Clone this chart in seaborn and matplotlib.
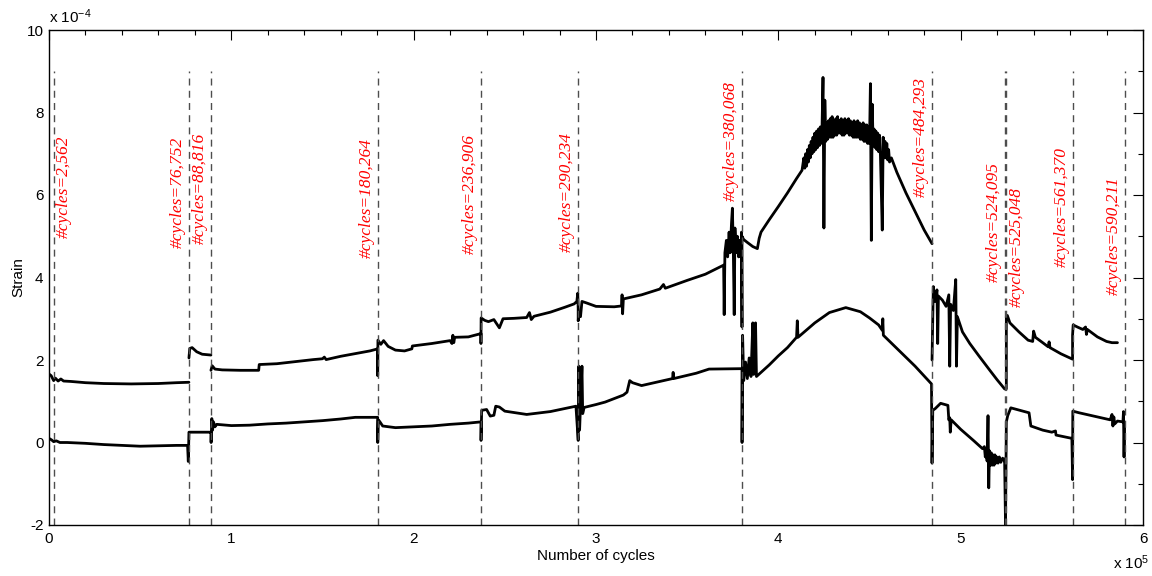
import numpy as np
import pandas as pd
import matplotlib
matplotlib.use('Agg')
import matplotlib.pyplot as plt
from matplotlib.ticker import MultipleLocator, FuncFormatter
import seaborn as sns

# cycle counts where the test was interrupted (dashed markers)
event_cycles = [2562, 76752, 88816, 180264, 236906, 290234,
                380068, 484293, 524095, 525048, 561370, 590211]
event_labels = ['#cycles=' + f'{c:,}' for c in event_cycles]

# strain traces, (cycles, strain in 1e-4)
upper_1 = [(0, 1.66), (1200, 1.62), (2562, 1.50), (3500, 1.56), (5000, 1.49), (6500, 1.54),
           (8000, 1.49), (12000, 1.48), (20000, 1.45), (30000, 1.43), (45000, 1.42),
           (60000, 1.43), (70000, 1.45), (76752, 1.46)]
upper_2 = [(76752, 2.05), (77200, 2.28), (78500, 2.30), (81000, 2.20), (84000, 2.14), (88816, 2.12)]
upper_3 = [(88816, 1.75), (89500, 1.86), (91000, 1.78), (95000, 1.76), (105000, 1.75),
           (115000, 1.75), (115300, 1.89), (125000, 1.91), (135000, 1.96), (145000, 2.01),
           (150000, 2.03), (151000, 2.07), (152000, 2.01), (160000, 2.09), (170000, 2.17),
           (176000, 2.22), (180264, 2.27), (180264, 1.62), (180400, 2.48), (182000, 2.38),
           (183500, 2.47), (186000, 2.33), (190000, 2.24), (195000, 2.22), (199000, 2.27),
           (199300, 2.34), (210000, 2.40), (220000, 2.47), (221000, 2.40), (221500, 2.60),
           (222000, 2.42), (222500, 2.55), (230000, 2.56), (236906, 2.64),
           (236906, 2.40), (237000, 3.02), (239000, 2.96), (241000, 2.93), (244000, 2.98),
           (247000, 2.78), (249000, 3.00), (255000, 3.01), (262000, 3.03), (263500, 3.15),
           (264500, 2.98), (266000, 3.06), (275000, 3.16), (283000, 3.28), (288000, 3.36),
           (289500, 3.42), (290000, 3.62), (290234, 3.25),
           (290234, 2.95), (290600, 3.08), (291500, 3.05), (292300, 3.42), (295000, 3.38),
           (300000, 3.30), (310000, 3.29), (314000, 3.31), (314300, 3.58), (314600, 3.12),
           (315000, 3.48), (325000, 3.58), (335000, 3.72), (337000, 3.83), (338000, 3.74),
           (350000, 3.93), (360000, 4.08), (370000, 4.30), (370300, 3.10), (370700, 4.60),
           (371500, 4.90), (372200, 4.50), (373000, 5.10), (373600, 4.60), (374300, 5.30),
           (374800, 5.68), (375300, 4.70), (375800, 3.10), (376200, 5.20), (376800, 4.60),
           (377500, 5.00), (378200, 4.50), (378800, 4.90), (379400, 4.50), (379800, 5.10),
           (380068, 2.80),
           (380068, 5.00), (381000, 4.92), (383000, 4.85), (386000, 4.75), (388500, 4.70),
           (389500, 4.95), (390500, 5.10), (395000, 5.40), (400000, 5.72), (405000, 6.05),
           (410000, 6.40), (413000, 6.60), (414000, 6.90), (414500, 6.65), (415000, 7.00),
           (415500, 6.70), (416000, 7.10), (416500, 6.80), (417000, 7.20), (417500, 6.90),
           (418000, 7.30), (418500, 7.00), (419000, 7.40), (419500, 7.05), (420000, 7.50),
           (420500, 7.10), (421000, 7.55), (421500, 7.15), (422000, 7.60), (422500, 7.20),
           (423000, 7.65), (423500, 7.25), (424000, 7.70), (424500, 8.85), (425000, 5.20),
           (425500, 8.30), (426000, 7.30), (426500, 7.75), (427000, 7.35), (427500, 7.80),
           (428000, 7.40), (428500, 7.85), (429000, 7.40), (429500, 7.90), (430000, 7.40),
           (430500, 7.80), (431000, 7.45), (431500, 7.85), (432000, 7.45), (432500, 7.90),
           (433000, 7.50), (433500, 7.80), (434000, 7.50), (434500, 7.85), (435000, 7.45),
           (435500, 7.80), (436000, 7.45), (436500, 7.85), (437000, 7.50), (437500, 7.80),
           (438000, 7.50), (438500, 7.85), (439000, 7.45), (439500, 7.80), (440000, 7.45),
           (440500, 7.75), (441000, 7.40), (441500, 7.80), (442000, 7.40), (442500, 7.75),
           (443000, 7.40), (443500, 7.80), (444000, 7.40), (444500, 7.75), (445000, 7.35),
           (445500, 7.70), (446000, 7.35), (446500, 7.75), (447000, 7.30), (447500, 7.70),
           (448000, 7.30), (448500, 7.70), (449000, 7.25), (449500, 7.65), (450000, 7.25),
           (450500, 8.70), (451000, 4.90), (451500, 8.20), (452000, 7.20), (452500, 7.60),
           (453000, 7.15), (453500, 7.55), (454000, 7.10), (454500, 7.50), (455000, 7.05),
           (455500, 7.45), (456000, 6.95), (457000, 5.15), (457500, 7.40), (458000, 6.90),
           (458500, 7.30), (459000, 6.90), (459500, 7.25), (460000, 6.85), (460500, 7.10),
           (461000, 6.80), (462000, 6.90), (465000, 6.55), (470000, 6.05), (475000, 5.60),
           (480000, 5.15), (484293, 4.82)]
upper_4 = [(484293, 2.00), (485000, 3.78), (486000, 3.42), (487000, 3.70), (487400, 2.40),
           (487800, 3.55), (490000, 3.45), (492000, 3.30), (493500, 3.58), (494000, 1.85),
           (494500, 3.35), (496000, 3.20), (497300, 3.95), (497700, 1.85), (498200, 3.05),
           (501000, 2.68), (505000, 2.40), (510000, 2.10), (516000, 1.75), (520000, 1.52),
           (524095, 1.30), (525048, 1.30), (525048, 3.05), (525600, 3.08), (527000, 2.90),
           (532000, 2.68), (537000, 2.48), (539500, 2.45), (540000, 2.70), (541000, 2.55),
           (545000, 2.42), (548000, 2.32), (548500, 2.44), (549000, 2.30), (555000, 2.15),
           (561370, 2.02), (561370, 2.60), (561700, 2.85), (564000, 2.80), (567000, 2.74),
           (568500, 2.80), (569000, 2.62), (569500, 2.74), (575000, 2.56), (580000, 2.45),
           (583000, 2.42), (586000, 2.42)]
lower_1 = [(0, 0.10), (1500, 0.06), (2562, 0.02), (4000, 0.04), (6000, 0.00), (10000, 0.00),
           (20000, -0.02), (30000, -0.05), (40000, -0.07), (50000, -0.09), (60000, -0.08),
           (70000, -0.07), (76000, -0.07), (76400, -0.46), (76600, -0.05), (76752, 0.25),
           (88000, 0.25), (88816, 0.24), (88900, 0.00), (89300, 0.58), (89700, 0.30),
           (90200, 0.50), (91000, 0.38), (92000, 0.44), (100000, 0.41), (110000, 0.42),
           (120000, 0.45), (130000, 0.47), (140000, 0.50), (150000, 0.53), (160000, 0.57),
           (168000, 0.61), (180264, 0.61), (180300, 0.00), (180600, 0.55), (181500, 0.50),
           (183000, 0.40), (190000, 0.36), (200000, 0.38), (210000, 0.40), (220000, 0.44),
           (230000, 0.47), (236906, 0.50), (236950, 0.05), (237300, 0.78), (240000, 0.80),
           (242000, 0.64), (244000, 0.66), (245000, 0.88), (247000, 0.86), (250000, 0.76),
           (262000, 0.68), (275000, 0.75), (289000, 0.88), (290234, 0.05), (290600, 1.85),
           (291000, 0.30), (292300, 1.85), (292700, 0.70), (293500, 0.85), (300000, 0.92),
           (305000, 0.98), (315000, 1.15), (317000, 1.22), (318500, 1.50), (320000, 1.45),
           (325000, 1.38), (335000, 1.48), (342000, 1.55), (342300, 1.70), (342600, 1.55),
           (355000, 1.68), (362000, 1.78), (380068, 1.79), (380100, 0.00), (380400, 2.60),
           (381000, 1.50), (382000, 1.95), (383000, 1.55), (384000, 2.05), (385000, 1.60),
           (386000, 2.90), (386500, 1.65), (387500, 2.90), (388000, 1.60), (395000, 1.88),
           (400000, 2.10), (405000, 2.30), (410000, 2.55), (410400, 2.95), (410800, 2.55),
           (420000, 2.90), (428000, 3.15), (437000, 3.27), (445000, 3.17), (450000, 3.02),
           (455000, 2.85), (457000, 2.72), (457300, 3.00), (457600, 2.60), (465000, 2.28),
           (475000, 1.85), (484000, 1.42), (484293, -0.50), (484700, 0.78), (486000, 0.82),
           (489000, 0.95), (493000, 0.90), (493500, 0.55), (494000, 0.60), (494300, 0.25),
           (494800, 0.55), (500000, 0.32), (507000, 0.05), (512000, -0.15), (513000, -0.10),
           (513500, -0.35), (514000, -0.15), (514500, -0.45), (515000, 0.65), (515400, -1.10),
           (515800, -0.20), (516300, -0.55), (516800, -0.25), (517300, -0.55), (517800, -0.30),
           (518300, -0.55), (518800, -0.30), (519300, -0.50), (519800, -0.35), (520500, -0.50),
           (521200, -0.35), (522000, -0.48), (523000, -0.38), (524000, -0.45), (524095, -0.40),
           (524600, -2.00), (525048, 0.50), (525800, 0.65), (527500, 0.84), (537500, 0.72),
           (538500, 0.40), (545000, 0.30), (550000, 0.25), (552000, 0.28), (552300, 0.18),
           (561000, 0.10), (561370, -0.90), (561500, 0.76), (565000, 0.72), (575000, 0.62),
           (582000, 0.55), (583000, 0.68), (583500, 0.40), (584000, 0.62), (584500, 0.45),
           (586000, 0.52), (589000, 0.50), (589300, 0.75), (589600, -0.35), (589900, 0.50)]

# height (in 1e-4) where each rotated label starts, and which side of its line it sits on
label_heights = [4.96, 4.72, 4.81, 4.47, 4.57, 4.62, 5.85, 5.95, 3.88, 3.29, 4.25, 3.58]
label_sides = ['right', 'left', 'left', 'left', 'left', 'left',
               'left', 'left', 'left', 'right', 'left', 'left']

traces = {'upper_1': upper_1, 'upper_2': upper_2, 'upper_3': upper_3,
          'upper_4': upper_4, 'lower_1': lower_1}
rows = []
for name, pts in traces.items():
    for c, s in pts:
        rows.append((name, c, s * 1e-4))
df = pd.DataFrame(rows, columns=['trace', 'cycles', 'strain'])

sns.set_theme(style='white')
plt.rcParams['font.family'] = ['Liberation Sans', 'DejaVu Sans']
plt.rcParams['mathtext.default'] = 'regular'

fig = plt.figure(figsize=(11.52, 5.76), dpi=100)
ax = fig.add_axes([49 / 1152, 51 / 576, 1094 / 1152, 495 / 576])

sns.lineplot(data=df, x='cycles', y='strain', units='trace', estimator=None,
             sort=False, color='black', lw=2.0, ax=ax, legend=False)

ax.vlines(event_cycles, -2e-4, 9e-4, colors='0.3', linestyles=(0, (5, 3.8)), lw=1.0)
for c, lab, h, side in zip(event_cycles, event_labels, label_heights, label_sides):
    if side == 'right':
        off, ha = 2.5, 'left'
    else:
        off, ha = -3, 'right'
    tr = matplotlib.transforms.offset_copy(ax.transData, fig=fig, x=off, y=0, units='dots')
    ax.text(c, h * 1e-4, lab, rotation=90, ha=ha, va='bottom', color='red',
            fontsize=12.5, style='italic', family=['Liberation Serif', 'DejaVu Serif'],
            transform=tr)

ax.set_xlim(0, 6e5)
ax.set_ylim(-2e-4, 10e-4)
ax.xaxis.set_major_locator(MultipleLocator(1e5))
ax.xaxis.set_minor_locator(MultipleLocator(2e4))
ax.yaxis.set_major_locator(MultipleLocator(2e-4))
ax.yaxis.set_minor_locator(MultipleLocator(1e-4))
ax.xaxis.set_major_formatter(FuncFormatter(lambda v, _: f'{round(v / 1e5):d}'))
ax.yaxis.set_major_formatter(FuncFormatter(lambda v, _: f'{round(v / 1e-4):d}'))
ax.tick_params(which='both', direction='in', top=True, right=True, colors='black',
               labelsize=11, width=0.8)
ax.tick_params(which='major', length=7, pad=4)
ax.tick_params(which='minor', length=3.5)
ax.tick_params(axis='x', which='major', pad=5)
for sp in ax.spines.values():
    sp.set_color('black')
    sp.set_linewidth(1.0)

ax.set_xlabel('Number of cycles', fontsize=11, color='black')
ax.set_ylabel('Strain', fontsize=11, color='black')
ax.xaxis.set_label_coords(0.5, -0.048)
ax.yaxis.set_label_coords(-0.022, 0.5)
ax.text(0.0, 1.008, 'x 10$^{-4}$', transform=ax.transAxes, ha='left', va='bottom',
        fontsize=11, color='black')
ax.text(1.006, -0.077, 'x 10$^{5}$', transform=ax.transAxes, ha='right', va='center',
        fontsize=11, color='black')

fig.savefig('out.png', dpi=100, facecolor='white')
